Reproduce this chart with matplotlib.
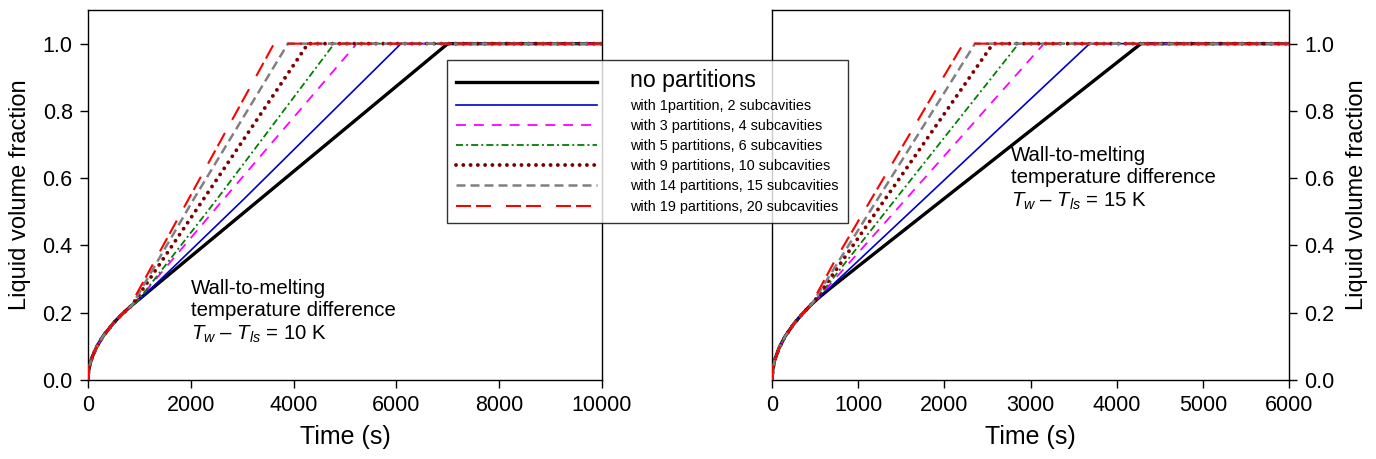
import numpy as np
import matplotlib
matplotlib.use("Agg")
import matplotlib.pyplot as plt

plt.rcParams.update({
    "font.family": ["Liberation Sans", "DejaVu Sans"],
    "mathtext.fontset": "custom",
    "mathtext.rm": "Liberation Sans",
    "mathtext.it": "Liberation Sans:italic",
    "axes.linewidth": 1.0,
})

labels = ["no partitions",
          "with 1partition, 2 subcavities",
          "with 3 partitions, 4 subcavities",
          "with 5 partitions, 6 subcavities",
          "with 9 partitions, 10 subcavities",
          "with 14 partitions, 15 subcavities",
          "with 19 partitions, 20 subcavities"]

# ---- left panel: Tw - Tls = 10 K (shared conduction part, then one branch per case) ----
t10_common = [0, 10, 30, 80, 170, 300, 500, 650, 800]
y10_common = [0, 0.024, 0.042, 0.068, 0.099, 0.132, 0.17, 0.194, 0.215]
t10 = [
    [900, 2000, 4000, 7000, 10000],
    [1000, 3020, 6090, 10000],
    [950, 2630, 5230, 10000],
    [950, 2500, 4790, 10000],
    [850, 2240, 4280, 10000],
    [850, 2050, 3890, 10000],
    [1950, 3620, 10000],
]
y10 = [
    [0.228, 0.367, 0.62, 1.0, 1.0],
    [0.238, 0.536, 1.0, 1.0],
    [0.233, 0.536, 1.0, 1.0],
    [0.232, 0.536, 1.0, 1.0],
    [0.221, 0.536, 1.0, 1.0],
    [0.221, 0.536, 1.0, 1.0],
    [0.536, 1.0, 1.0],
]

# ---- right panel: Tw - Tls = 15 K ----
t15_common = [0, 10, 30, 80, 150, 250, 350, 450]
y15_common = [0, 0.033, 0.058, 0.094, 0.129, 0.166, 0.196, 0.223]
t15 = [
    [550, 678, 2066, 4282, 6000],
    [550, 1860, 3686, 6000],
    [520, 1600, 3157, 6000],
    [500, 1500, 2862, 6000],
    [480, 1400, 2565, 6000],
    [460, 1300, 2356, 6000],
    [730, 1233, 2220, 6000],
]
y15 = [
    [0.246, 0.273, 0.553, 1.0, 1.0],
    [0.246, 0.561, 1.0, 1.0],
    [0.24, 0.551, 1.0, 1.0],
    [0.235, 0.559, 1.0, 1.0],
    [0.23, 0.570, 1.0, 1.0],
    [0.225, 0.568, 1.0, 1.0],
    [0.355, 0.573, 1.0, 1.0],
]

styles = [
    dict(color="black", lw=2.4, ls="-"),
    dict(color="#0000cc", lw=1.2, ls="-"),
    dict(color="#ff00ff", lw=1.3, dashes=(5.5, 4.4)),
    dict(color="#008000", lw=1.3, dashes=(3.9, 1.7, 1.1, 1.7)),
    dict(color="#800000", lw=2.8, dashes=(0.01, 1.86), dash_capstyle="round"),
    dict(color="#808080", lw=1.8, dashes=(3.6, 2)),
    dict(color="#ff0000", lw=1.5, dashes=(7.2, 2.4, 7.2, 7.2)),
]

fig = plt.figure(figsize=(13.76, 4.59), dpi=100)
ax1 = fig.add_axes([88/1376, 1-380/459, (602-88)/1376, 370/459])
ax2 = fig.add_axes([772/1376, 1-380/459, (1289-772)/1376, 370/459])

# later series drawn on top, as in the original
handles = []
for i in range(7):
    h, = ax1.plot(t10_common + t10[i], y10_common + y10[i], label=labels[i],
                  zorder=3+i, **styles[i])
    handles.append(h)
    ax2.plot(t15_common + t15[i], y15_common + y15[i], zorder=3+i, **styles[i])

for ax, xmax in ((ax1, 10000), (ax2, 6000)):
    ax.set_xlim(0, xmax); ax.set_ylim(0, 1.1)
    ax.set_yticks(np.arange(0, 1.01, 0.2))
    ax.set_yticklabels([f"{v:.1f}" for v in np.arange(0, 1.01, 0.2)])
    ax.tick_params(direction="out", length=6, width=1, labelsize=15.5, pad=5)
    ax.set_xlabel("Time (s)", fontsize=18, labelpad=6)
    ax.set_ylabel("Liquid volume fraction", fontsize=17, labelpad=8)
ax1.set_xticks(np.arange(0, 10001, 2000))
ax2.set_xticks(np.arange(0, 6001, 1000))
ax2.yaxis.tick_right(); ax2.yaxis.set_label_position("right")

ax1.text(0.2, 0.272,
         "Wall-to-melting\ntemperature difference\n$T_w$ \u2013 $T_{ls}$ = 10 K",
         transform=ax1.transAxes, fontsize=14.7, va="top", ha="left")
ax2.text(0.463, 0.632,
         "Wall-to-melting\ntemperature difference\n$T_w$ \u2013 $T_{ls}$ = 15 K",
         transform=ax2.transAxes, fontsize=14.7, va="top", ha="left")

leg = fig.legend(handles=handles, loc="upper left", bbox_to_anchor=(447/1376, 1-60/459),
                 fontsize=10.4, frameon=True, fancybox=False, edgecolor="black",
                 handlelength=9.7, handletextpad=2.3, borderpad=0.65,
                 labelspacing=0.43, borderaxespad=0)
leg.get_frame().set_linewidth(1.0)
leg.get_texts()[0].set_fontsize(16.7)
leg.set_zorder(20)

fig.savefig("out.png", dpi=100)
